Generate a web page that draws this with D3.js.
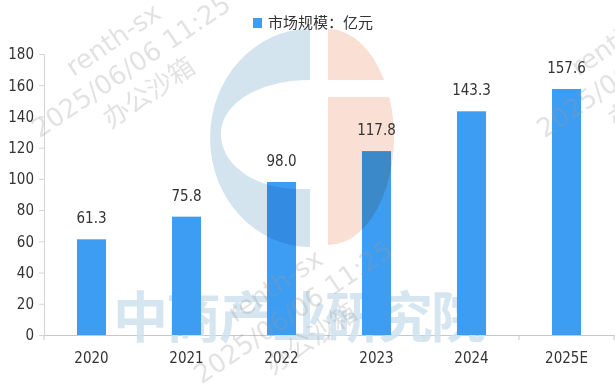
<!DOCTYPE html>
<html>
<head>
<meta charset="utf-8">
<script src="https://cdn.jsdelivr.net/npm/d3@7"></script>
<style>
    body { margin: 0; background: #fff; }
    svg { display: block; }
    .num { font-family: "Liberation Sans Narrow", "DejaVu Sans Condensed", "Liberation Sans", sans-serif; font-size: 15px; fill: #333; }
    .cjk { font-family: "Noto Sans CJK SC", sans-serif; }
</style>
</head>
<body>
<div id="chart"></div>
<script>
//Chart data
var years = ["2020", "2021", "2022", "2023", "2024", "2025E"];
var marketSize = [61.3, 75.8, 98.0, 117.8, 143.3, 157.6];
var yTicks = [0, 20, 40, 60, 80, 100, 120, 140, 160, 180];
var legendLabel = "市场规模：亿元";
var brandText = "中商产业研究院";
var stampLines = ["renth-sx", "2025/06/06 11:25", "办公沙箱"];

var width = 615, height = 384;
//NB: don't use "top" as a global name, it clashes with window.top
var plotLeft = 44, plotRight = 614, plotTop = 54, plotBottom = 335;
var barColor = "#3d9df2";

var svg = d3.select("#chart").append("svg")
    .attr("width", width)
    .attr("height", height);

//Scales
var x = d3.scaleBand()
    .domain(years)
    .range([plotLeft, plotRight])
    .paddingInner(0.694)
    .paddingOuter(0.347);

var y = d3.scaleLinear()
    .domain([0, 180])
    .range([plotBottom, plotTop]);

//Y axis
var yAxis = svg.append("g")
    .attr("transform", "translate(" + plotLeft + ",0)")
    .call(d3.axisLeft(y).tickValues(yTicks).tickSize(5).tickPadding(5).tickSizeOuter(0));
yAxis.select(".domain").attr("stroke", "#d4d4d4");
yAxis.selectAll(".tick line").attr("stroke", "#d4d4d4");
yAxis.selectAll("text").attr("class", "num").attr("fill", null);

//X axis - labels at centers, ticks on band boundaries
var xAxis = svg.append("g")
    .attr("transform", "translate(0," + plotBottom + ")")
    .call(d3.axisBottom(x).tickSize(0).tickPadding(0).tickSizeOuter(0));
xAxis.select(".domain").attr("stroke", "#c8c8c8");
xAxis.selectAll("text").attr("class", "num").attr("fill", null)
    .attr("y", 28).attr("dy", null);

var gap = (x.step() - x.bandwidth()) / 2;
var bounds = years.map(function (d) { return x(d) - gap; }).concat([plotRight]);
svg.append("g").selectAll("line")
    .data(bounds)
    .enter().append("line")
    .attr("x1", function (d) { return d; })
    .attr("x2", function (d) { return d; })
    .attr("y1", plotBottom)
    .attr("y2", plotBottom + 5)
    .attr("stroke", "#c8c8c8");

//Big pale brand text (behind the bars)
svg.append("text")
    .attr("class", "cjk")
    .attr("x", 113)
    .attr("y", 337)
    .attr("font-size", 55)
    .attr("font-weight", "bold")
    .attr("letter-spacing", -2)
    .attr("fill", "#cfe2ee")
    .attr("opacity", 0.85)
    .text(brandText);

//Bars
svg.append("g").selectAll("rect")
    .data(marketSize)
    .enter().append("rect")
    .attr("x", function (d, i) { return x(years[i]); })
    .attr("y", function (d) { return y(d); })
    .attr("width", x.bandwidth())
    .attr("height", function (d) { return y(0) - y(d); })
    .attr("fill", barColor);

//Logo watermark, multiplied over the bars
var logo = svg.append("g");
logo.append("path")
    .attr("d", "M310,29 A100,109 0 0 0 310,247 L310,189 L300,189 C255,189 221,165 221,134 C221,103 260,80 310,80 Z")
    .attr("fill", "#d3e4ef")
    .style("mix-blend-mode", "multiply");

var cx = 328, cy = 137, rx = 66, ry = 108;
function edgeX(yy) { //right edge of the pink half ellipse
    var t = (yy - cy) / ry;
    return cx + rx * Math.sqrt(1 - t * t);
}
var pinkPath = "M" + cx + "," + (cy - ry) + " A" + rx + "," + ry + " 0 0 1 " + edgeX(80) + ",80 L" + cx + ",80 Z" +
    " M" + cx + ",97 L" + edgeX(97) + ",97 A" + rx + "," + ry + " 0 0 1 " + cx + "," + (cy + ry) + " Z";
logo.append("path")
    .attr("d", pinkPath)
    .attr("fill", "#f9dfd4")
    .style("mix-blend-mode", "multiply");

//Diagonal gray stamps
var stampCenters = [[131, 66], [293, 312], [636, 66]];
var stamps = svg.append("g").selectAll("g")
    .data(stampCenters)
    .enter().append("g")
    .attr("transform", function (d) { return "translate(" + d[0] + "," + d[1] + ") rotate(-34)"; });
stamps.selectAll("text")
    .data(stampLines)
    .enter().append("text")
    .attr("text-anchor", "middle")
    .attr("font-family", "'DejaVu Sans', 'Noto Sans CJK SC', sans-serif")
    .attr("font-size", 26)
    .attr("y", function (d, i) { return (i - 1) * 32 + 9; })
    .attr("fill", "#9a9a9a")
    .attr("opacity", 0.28)
    .text(function (d) { return d; });

//Value labels
svg.append("g").selectAll("text")
    .data(marketSize)
    .enter().append("text")
    .attr("class", "num")
    .attr("text-anchor", "middle")
    .attr("x", function (d, i) { return x(years[i]) + x.bandwidth() / 2; })
    .attr("y", function (d) { return y(d) - 16; })
    .text(function (d) { return d.toFixed(1); });

//Legend
var legend = svg.append("g").attr("transform", "translate(253,18)");
legend.append("rect")
    .attr("width", 9)
    .attr("height", 10)
    .attr("fill", barColor);
legend.append("text")
    .attr("class", "cjk")
    .attr("x", 15)
    .attr("y", 10)
    .attr("font-size", 15)
    .attr("fill", "#333")
    .text(legendLabel);
</script>
</body>
</html>
